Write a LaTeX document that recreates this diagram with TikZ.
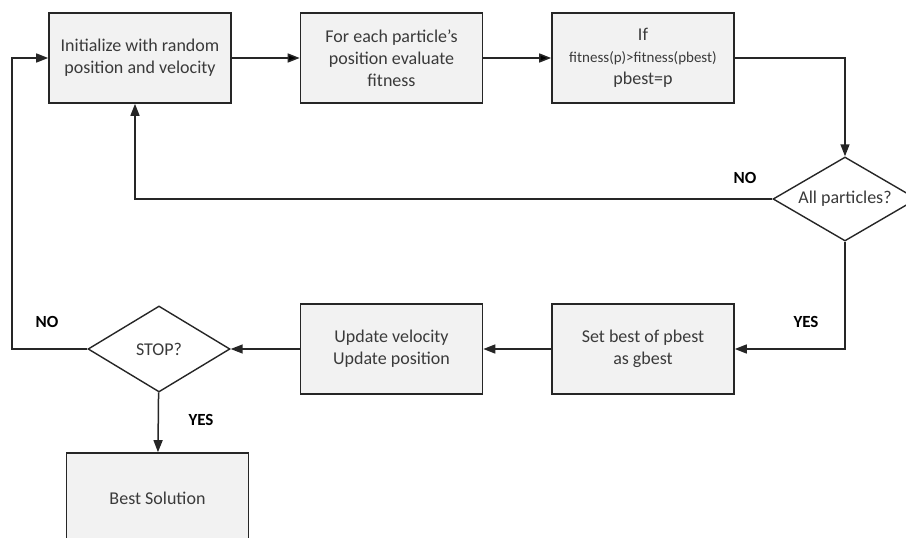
\documentclass[tikz,border=0pt]{standalone}
\usepackage{fontspec}
\setmainfont{Carlito}
\usetikzlibrary{positioning,shapes.geometric,arrows.meta}

\definecolor{boxfill}{HTML}{F2F2F2}
\definecolor{boxline}{HTML}{262626}
\definecolor{boxtext}{HTML}{3A3A3A}

\tikzset{
  stepbox/.style={draw=boxline, line width=1.6pt, fill=boxfill,
    minimum width=182pt, minimum height=90pt, align=center,
    text=boxtext, font=\fontsize{18}{22}\selectfont},
  test/.style={diamond, aspect=1.7, draw=boxline, line width=1.4pt, fill=white,
    minimum width=144pt, minimum height=84pt, inner sep=0pt,
    text=boxtext, font=\fontsize{18}{22}\selectfont},
  answer/.style={font=\bfseries\fontsize{17}{20}\selectfont},
  flow/.style={draw=boxline, line width=1.5pt, -{Triangle[length=12pt,width=9pt]}}
}

\begin{document}
\begin{tikzpicture}[x=1pt,y=-1pt]
\useasboundingbox (0,0) rectangle (906,538);

% top row
\node[stepbox] (init) at (140,58) {Initialize with random\\position and velocity};
\node[stepbox] (eval) at (391.5,58) {For each particle’s\\position evaluate\\fitness};
\node[stepbox] (ifbest) at (643,58) {If\\{\fontsize{15}{22}\selectfont fitness(p)>fitness(pbest)}\\pbest=p};
\node[test] (allp) at (845,199) {All particles?};

% bottom row
\node[stepbox] (gbest) at (643,349) {Set best of pbest\\as gbest};
\node[stepbox] (update) at (391.5,349) {Update velocity\\Update position};
\node[test, aspect=1.65, minimum width=142pt, minimum height=86pt] (stop) at (159,349) {STOP?};
\node[stepbox] (best) at (157.5,498) {Best Solution};

\coordinate (loop) at (12,0);

% connectors
\path[flow]
  (init) edge (eval)
  (eval) edge (ifbest);
\draw[flow] (ifbest.east) -| (allp.north);
\draw[flow] (allp.west) -| ([xshift=-5pt]init.south);
\draw[flow] (allp.south) |- (gbest.east);
\draw[flow] (gbest) -- (update);
\draw[flow] (update) -- (stop);
\draw[flow] (stop.west) -- (stop.west -| loop) |- (init.west);
\draw[flow] (stop) -- (best);

% answers
\node[answer] (no1) at (745,178) {NO};
\node[answer] (yes1) at (806,322) {YES};
\node[answer] (no2) at (47,322) {NO};
\node[answer] (yes2) at (201,420) {YES};
\end{tikzpicture}
\end{document}
